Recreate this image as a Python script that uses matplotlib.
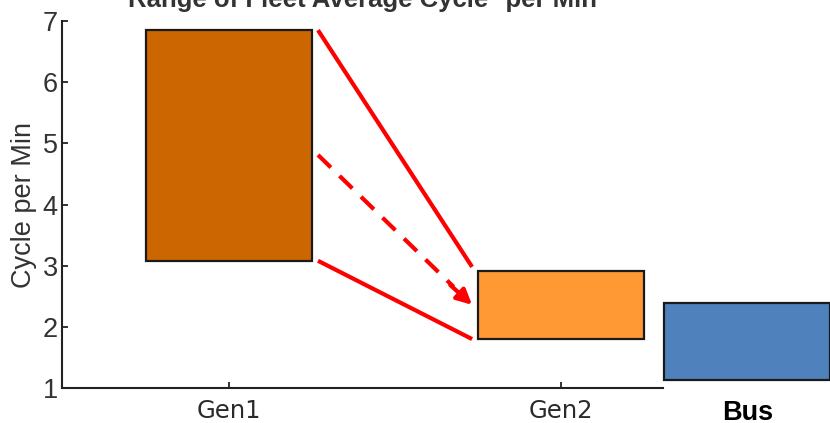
import matplotlib
matplotlib.use("Agg")
import matplotlib.pyplot as plt
from matplotlib.transforms import blended_transform_factory

# Fleet average cycles per minute: low / high of each range
categories = ["Gen1", "Gen2", "Bus"]
range_low = [3.08, 1.80, 1.13]
range_high = [6.85, 2.92, 2.39]
# midpoint trend shown by the dashed arrow (start on Gen1, end on Gen2)
trend = [4.81, 2.36]

colors = ["#CC6600", "#FF9933", "#4F81BD"]
text_color = "#333333"
font = "Liberation Sans"

fig = plt.figure(figsize=(8.30, 4.23), dpi=100)
W, H = 830, 423
ax = fig.add_axes([62 / W, 35 / H, 601 / W, 367 / H])

# axis categories sit at 1, 2; the Bus bar sits just outside the plotting area
xpos = [1.0, 2.0, 2.561]
width = 0.5
for i, (lo, hi) in enumerate(zip(range_low, range_high)):
    ax.bar(xpos[i], hi - lo, bottom=lo, width=width, color=colors[i],
           edgecolor="#1a1a1a", linewidth=1.6, clip_on=False, zorder=3)

# connecting lines from Gen1 to Gen2
x0 = xpos[0] + width / 2 + 0.018
x1 = xpos[1] - width / 2 - 0.018
red = "#FF0000"
ax.plot([x0, x1], [range_high[0], range_high[1] + 0.06], color=red, lw=3,
        solid_capstyle="butt", zorder=4)
ax.plot([x0, x1], [range_low[0], range_low[1]], color=red, lw=3,
        solid_capstyle="butt", zorder=4)
# dashed trend arrow
frac = 0.88
xm = x0 + (x1 - x0) * frac
ym = trend[0] + (trend[1] - trend[0]) * frac
ax.plot([x0, xm], [trend[0], ym], color=red, lw=3,
        linestyle=(0, (4.3, 2.9)), dash_capstyle="butt", zorder=4)
ax.annotate("", xy=(x1, trend[1]), xytext=(xm - 0.01, ym + 0.03),
            arrowprops=dict(arrowstyle="-|>,head_length=0.9,head_width=0.45",
                            color=red, lw=3, shrinkA=0, shrinkB=0), zorder=4)

ax.set_xlim(0.497, 2.307)
ax.set_ylim(1, 7)
ax.set_xticks(xpos[:2])
ax.set_xticklabels(categories[:2], fontsize=17.5, family="DejaVu Sans",
                   color="#2a2a2a")
ax.set_yticks(range(1, 8))
ax.set_yticklabels([str(v) for v in range(1, 8)], fontsize=19.5,
                   family=font, color=text_color)
ax.tick_params(axis="both", direction="in", length=4.5, width=1.3, color="#222222")
ax.tick_params(axis="y", pad=3)
ax.tick_params(axis="x", pad=8)
for s in ("top", "right"):
    ax.spines[s].set_visible(False)
for s in ("left", "bottom"):
    ax.spines[s].set_linewidth(1.5)
    ax.spines[s].set_color("#222222")

ax.set_ylabel("Cycle per Min", fontsize=19.5, family=font, color=text_color,
              labelpad=4)

# label for the bar outside the axis
trans = blended_transform_factory(ax.transData, fig.transFigure)
ax.text(xpos[2], 3 / H, categories[2], transform=trans, ha="center",
        va="baseline", fontsize=19.5, fontweight="bold", family=font,
        color="black", clip_on=False)

fig.text(362 / W, 1 - 7 / H, "Range of Fleet Average Cycle* per Min",
         ha="center", va="baseline", fontsize=18.5, fontweight="bold",
         family=font, color=text_color)

fig.savefig("out.png", dpi=100)
